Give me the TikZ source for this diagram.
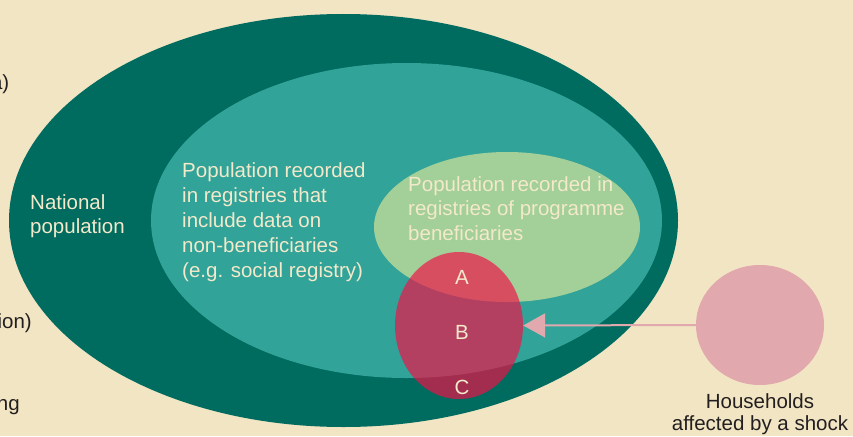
\documentclass[tikz,border=0pt]{standalone}
\usepackage{fontspec}
\setmainfont{Liberation Sans}
\usetikzlibrary{shapes.geometric,arrows.meta}
\definecolor{bgc}{HTML}{F2E5C3}
\definecolor{darkt}{HTML}{006B5F}
\definecolor{midt}{HTML}{31A398}
\definecolor{lightg}{HTML}{A3CF98}
\definecolor{redc}{HTML}{F31047}
\definecolor{pinkc}{HTML}{E1A9AE}
\definecolor{creamtxt}{HTML}{F3E9CB}
\definecolor{darktxt}{HTML}{231F20}
\tikzset{
  blob/.style={ellipse, inner sep=0pt, draw=none},
  lbl/.style={inner sep=0pt, align=left, text=creamtxt},
  side/.style={inner sep=0pt, text=darktxt, font=\fontsize{20.5}{24}\selectfont},
}
\begin{document}
\begin{tikzpicture}[x=1pt,y=-1pt]
\fill[bgc] (0,0) rectangle (853,436);
\useasboundingbox (0,0) rectangle (853,436);
\begin{scope}
\clip (0,0) rectangle (853,436);
% ellipses
\node[blob, fill=darkt, minimum width=669pt, minimum height=413pt] (nat) at (343.5,220.5) {};
\node[blob, fill=midt, minimum width=511pt, minimum height=315pt] (reg) at (406.5,220.5) {};
\node[blob, fill=lightg, minimum width=266pt, minimum height=150pt] (ben) at (507,227) {};
\node[blob, fill=redc, fill opacity=0.67, minimum width=128pt, minimum height=147pt] (red) at (459,325.5) {};
\node[blob, fill=pinkc, minimum width=128pt, minimum height=120pt] (shock) at (760,325) {};
% arrow
\draw[pinkc, line width=2pt, -{Triangle[length=22pt,width=24pt]}] (shock.west) -- (red.east);
% labels (base anchor = baseline of last line)
\node[lbl, anchor=base west, font=\fontsize{20.5}{24}\selectfont] (tnat) at (30,233) {National\\population};
\node[lbl, anchor=base west, font=\fontsize{20.5}{25}\selectfont] (treg) at (182,277) {Population recorded\\in registries that\\include data on\\non-beneficiaries\\(e.g. social registry)};
\node[lbl, anchor=base west, font=\fontsize{20.5}{24.5}\selectfont] (tben) at (408,240) {Population recorded in\\registries of programme\\beneficiaries};
\node[lbl, anchor=center, font=\fontsize{20.5}{24}\selectfont] (tA) at (462,277) {A};
\node[lbl, anchor=center, font=\fontsize{20.5}{24}\selectfont] (tB) at (462,332) {B};
\node[lbl, anchor=center, font=\fontsize{20.5}{24}\selectfont] (tC) at (462,387) {C};
\node[side, anchor=base, align=center, font=\fontsize{20.5}{22}\selectfont] (thh) at (760,430) {Households\\affected by a shock};
% cut-off side texts, as the reference shows them
\node[side, anchor=base east] (fa) at (9.5,89) {a)};
\node[side, anchor=base east] (fb) at (32,328) {ion)};
\node[side, anchor=base east] (fc) at (20,410) {ng};
\end{scope}
\end{tikzpicture}
\end{document}
